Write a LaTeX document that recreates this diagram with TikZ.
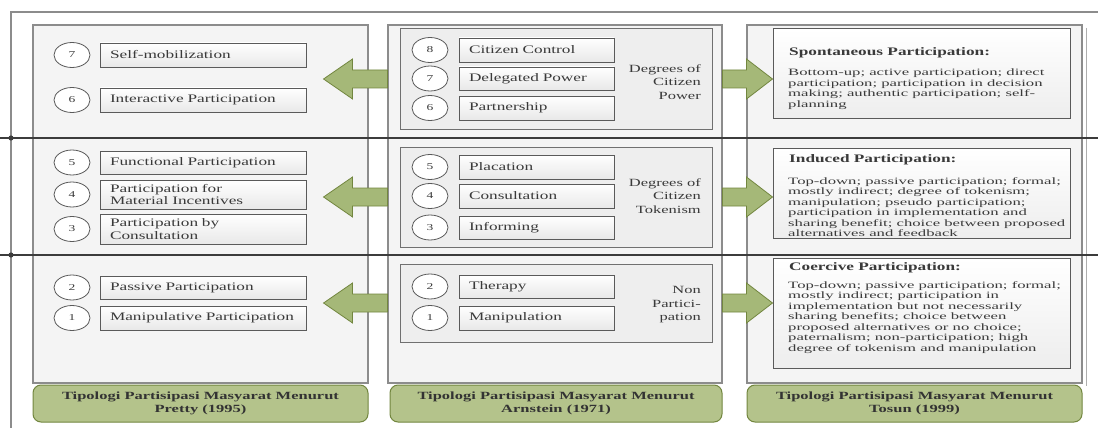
\documentclass[tikz,border=0pt]{standalone}
\usepackage{fontspec}
\setmainfont{Liberation Serif}[FakeStretch=1.5]
\newfontfamily\bodyfont{Liberation Serif}[FakeStretch=1.72]
\usetikzlibrary{calc,shapes.geometric}

\definecolor{framegray}{HTML}{8C8C8C}
\definecolor{panelfill}{HTML}{F4F4F4}
\definecolor{groupfill}{HTML}{EEEEEE}
\definecolor{boxedge}{HTML}{5A5A5A}
\definecolor{inkgray}{HTML}{3A3A3A}
\definecolor{sepline}{HTML}{3C3C3C}
\definecolor{olive}{HTML}{A5B878}
\definecolor{olivedark}{HTML}{72863F}
\definecolor{footfill}{HTML}{B4C38B}

\tikzset{
  panel/.style={draw=framegray, fill=panelfill, line width=1.1pt, inner sep=0pt},
  groupbox/.style={draw=framegray!80!black, fill=groupfill, line width=1pt, inner sep=0pt},
  itembox/.style={draw=boxedge, line width=0.9pt, top color=white, bottom color=black!9,
    inner xsep=10pt, inner ysep=0pt, align=left, text=inkgray,
    font=\fontsize{11.5}{12.5}\selectfont},
  numcirc/.style={ellipse, draw=boxedge, fill=white, line width=0.8pt,
    minimum width=36pt, minimum height=25pt, inner sep=0pt, text=inkgray,
    font=\fontsize{9}{10}\selectfont},
  degree/.style={align=right, anchor=east, text=inkgray, inner sep=0pt,
    font=\fontsize{11}{13.5}\selectfont},
  textbox/.style={draw=boxedge, line width=1pt, top color=white, bottom color=black!7, inner sep=0pt},
  boxtitle/.style={anchor=west, inner sep=0pt, text=inkgray, font=\fontsize{11.5}{12}\selectfont\bfseries},
  boxbody/.style={anchor=north west, inner sep=0pt, align=left, text=inkgray,
    font=\bodyfont\fontsize{9.7}{10.5}\selectfont},
  footer/.style={draw=olivedark, fill=footfill, line width=1pt, rounded corners=8pt,
    inner sep=0pt, align=center, text=black!80,
    font=\fontsize{11}{12.5}\selectfont\bfseries},
  greenarrow/.style={fill=olive, draw=olivedark, line width=0.8pt, line join=miter},
  sep/.style={draw=sepline, line width=1.1pt},
}

% rectangle node from its corner coordinates: style, name, x1, y1, x2, y2, text
\newcommand\cornerbox[7]{%
  \node[#1, minimum width={(#5-#3)*1pt}, minimum height={(#6-#4)*1pt}]
    (#2) at ({(#3+#5)/2},{(#4+#6)/2}) {#7};}
% numbered item: name, number, circle x, box x1, box x2, y1, y2, text
\newcommand\ladderitem[8]{%
  \node[itembox, text width={(#5-#4-20)*1pt}, minimum height={(#7-#6)*1pt}]
    (#1) at ({(#4+#5)/2},{(#6+#7)/2}) {#8};
  \node[numcirc] (#1n) at (#3,{(#6+#7)/2}) {#2};}
% block arrow from a start point to a tip point, signed head length
\newcommand\blockarrow[3]{%
  \filldraw[greenarrow] let \p1=(#1), \p2=(#2) in
    (\x1,\y1-9pt) -- (\x2-#3,\y1-9pt) -- (\x2-#3,\y1-20pt) -- (\x2,\y1)
    -- (\x2-#3,\y1+20pt) -- (\x2-#3,\y1+9pt) -- (\x1,\y1+9pt) -- cycle;}

\begin{document}
\begin{tikzpicture}[x=1pt,y=-1pt]
\useasboundingbox (0,0) rectangle (1098,428);
\fill[white] (0,0) rectangle (1098,428);

% outer frame
\draw[framegray, line width=1.2pt] (1098,12) -- (11,12) -- (11,428);

% the three column panels
\cornerbox{panel}{pleft}{33}{25}{368}{383}{}
\cornerbox{panel}{pmid}{388}{25}{722}{383}{}
\cornerbox{panel}{pright}{747}{25}{1082}{383}{}
\draw[framegray!70, line width=0.8pt] (1086,28) -- (1086,386);

% row separators
\draw[sep] (0,138) -- (1098,138);
\draw[sep] (0,255) -- (1098,255);
\fill[sepline] (11,138) circle (2.6pt) (11,255) circle (2.6pt);

% middle column: Arnstein's ladder
\cornerbox{groupbox}{g1}{400}{29}{712}{129}{}
\cornerbox{groupbox}{g2}{400}{147}{712}{247}{}
\cornerbox{groupbox}{g3}{400}{264}{712}{342}{}

\ladderitem{m8}{8}{430}{459}{614}{38}{62}{Citizen Control}
\ladderitem{m7}{7}{430}{459}{614}{67}{90}{Delegated Power}
\ladderitem{m6}{6}{430}{459}{614}{96}{120}{Partnership}
\ladderitem{m5}{5}{430}{459}{614}{155}{179}{Placation}
\ladderitem{m4}{4}{430}{459}{614}{184}{208}{Consultation}
\ladderitem{m3}{3}{430}{459}{614}{216}{239}{Informing}
\ladderitem{m2}{2}{430}{459}{614}{275}{298}{Therapy}
\ladderitem{m1}{1}{430}{459}{614}{306}{330}{Manipulation}

\node[degree] (d1) at (701,82) {Degrees of\\Citizen\\Power};
\node[degree] (d2) at (701,196) {Degrees of\\Citizen\\Tokenism};
\node[degree] (d3) at (701,305) {Non\\Partici-\\pation};

% left column: Pretty
\ladderitem{l7}{7}{72}{100}{306}{43}{67}{Self-mobilization}
\ladderitem{l6}{6}{72}{100}{306}{88}{112}{Interactive Participation}
\ladderitem{l5}{5}{72}{100}{306}{151}{174}{Functional Participation}
\ladderitem{l4}{4}{72}{100}{306}{180}{209}{Participation for\\Material Incentives}
\ladderitem{l3}{3}{72}{100}{306}{214}{244}{Participation by\\Consultation}
\ladderitem{l2}{2}{72}{100}{306}{276}{299}{Passive Participation}
\ladderitem{l1}{1}{72}{100}{306}{306}{330}{Manipulative Participation}

% right column: Tosun
\cornerbox{textbox}{t1}{773}{29}{1070}{118}{}
\cornerbox{textbox}{t2}{773}{148}{1070}{238}{}
\cornerbox{textbox}{t3}{773}{258}{1070}{368}{}

\node[boxtitle] (t1h) at (789,53) {Spontaneous Participation:};
\node[boxbody] (t1b) at (788,69) {Bottom-up; active participation; direct\\
participation; participation in decision\\
making; authentic participation; self-\\
planning};
\node[boxtitle] (t2h) at (789,160) {Induced Participation:};
\node[boxbody] (t2b) at (788,177) {Top-down; passive participation; formal;\\
mostly indirect; degree of tokenism;\\
manipulation; pseudo participation;\\
participation in implementation and\\
sharing benefit; choice between proposed\\
alternatives and feedback};
\node[boxtitle] (t3h) at (789,268) {Coercive Participation:};
\node[boxbody] (t3b) at (788,281) {Top-down; passive participation; formal;\\
mostly indirect; participation in\\
implementation but not necessarily\\
sharing benefits; choice between\\
proposed alternatives or no choice;\\
paternalism; non-participation; high\\
degree of tokenism and manipulation};

% footers
\cornerbox{footer}{f1}{33}{385}{368}{422}{Tipologi Partisipasi Masyarat Menurut\\Pretty (1995)}
\cornerbox{footer}{f2}{390}{385}{722}{422}{Tipologi Partisipasi Masyarat Menurut\\Arnstein (1971)}
\cornerbox{footer}{f3}{747}{385}{1082}{422}{Tipologi Partisipasi Masyarat Menurut\\Tosun (1999)}

% arrows from the ladder groups to both neighbouring columns
\coordinate (a1) at (pmid.west |- g1.center);
\coordinate (a2) at (pmid.west |- g2.center);
\coordinate (a3) at (pmid.west |- g3.center);
\coordinate (b1) at (pmid.east |- g1.center);
\coordinate (b2) at (pmid.east |- g2.center);
\coordinate (b3) at (pmid.east |- g3.center);
\coordinate (la1) at ($(pleft.east |- g1.center)+(-45,0)$);
\coordinate (la2) at ($(pleft.east |- g2.center)+(-45,0)$);
\coordinate (la3) at ($(pleft.east |- g3.center)+(-45,0)$);
\coordinate (ra1) at ($(t1.west |- g1.center)$);
\coordinate (ra2) at ($(t2.west |- g2.center)$);
\coordinate (ra3) at ($(t3.west |- g3.center)$);
\blockarrow{a1}{la1}{-29pt}
\blockarrow{a2}{la2}{-29pt}
\blockarrow{a3}{la3}{-29pt}
\blockarrow{b1}{ra1}{26pt}
\blockarrow{b2}{ra2}{26pt}
\blockarrow{b3}{ra3}{26pt}
\end{tikzpicture}
\end{document}
